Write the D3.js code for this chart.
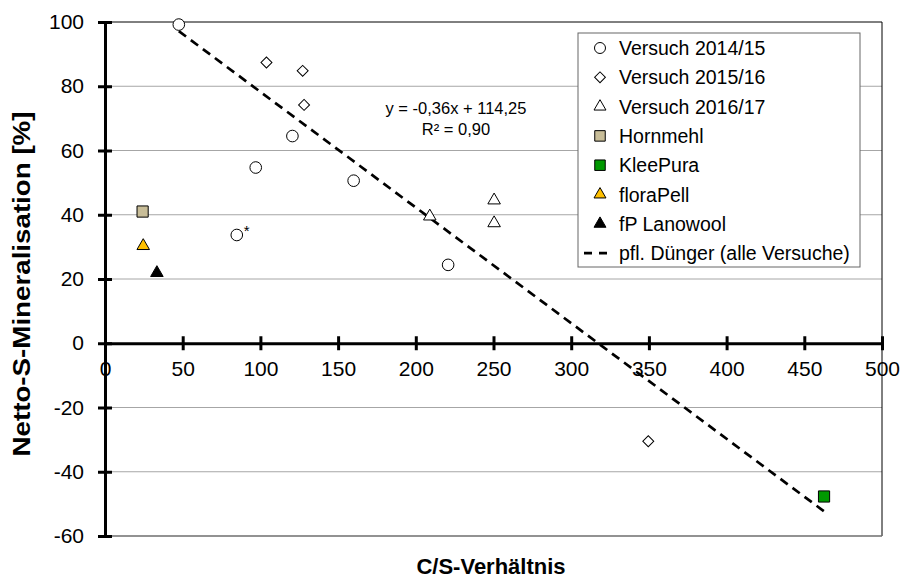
<!DOCTYPE html>
<html>
<head>
<meta charset="utf-8">
<script src="https://cdn.jsdelivr.net/npm/d3@7"></script>
<style>
  body { margin: 0; background: #fff; }
  text { font-family: "Liberation Sans", Arial, sans-serif; }
</style>
</head>
<body>
<div id="chart"></div>
<script>
// data: [C/S ratio, net S mineralisation %]
var versuch1415 = [[47.5, 99.2], [84.8, 33.7], [97, 54.7], [120.6, 64.5], [160, 50.6], [220.8, 24.4]];
var versuch1516 = [[103.9, 87.4], [127.2, 84.8], [128.1, 74.2], [349.6, -30.5]];
var versuch1617 = [[209, 39.5], [250.4, 44.5], [250.4, 37.4]];
var hornmehl = [[24.2, 41.0]];
var kleePura = [[462.7, -47.7]];
var floraPell = [[24.6, 30.3]];
var lanowool = [[33.4, 21.9]];
var trendSlope = -0.36, trendIntercept = 114.25;
var trendRange = [47.5, 462.7];
var xTicks = [0, 50, 100, 150, 200, 250, 300, 350, 400, 450, 500];
var yTicks = [-60, -40, -20, 0, 20, 40, 60, 80, 100];
var legendLabels = ["Versuch 2014/15", "Versuch 2015/16", "Versuch 2016/17", "Hornmehl", "KleePura", "floraPell", "fP Lanowool", "pfl. Dünger (alle Versuche)"];

var svgW = 901, svgH = 578;
var plotL = 105, plotR = 882, plotT = 22, plotB = 536;

var svg = d3.select("#chart").append("svg")
  .attr("width", svgW)
  .attr("height", svgH);

var x = d3.scaleLinear().domain([0, 500]).range([plotL, plotR]);
var y = d3.scaleLinear().domain([-60, 100]).range([plotB, plotT]);

// gridlines
svg.selectAll(".grid")
  .data(yTicks.filter(function(t) { return t != 0 && t != 100 && t != -60; }))
  .enter().append("line")
  .attr("x1", plotL).attr("x2", plotR)
  .attr("y1", function(d) { return y(d); })
  .attr("y2", function(d) { return y(d); })
  .attr("stroke", "#a6a6a6").attr("stroke-width", 1);

// plot frame: top/right black, bottom grey
svg.append("line").attr("x1", plotL).attr("x2", plotR).attr("y1", y(100)).attr("y2", y(100))
  .attr("stroke", "#000").attr("stroke-width", 1);
svg.append("line").attr("x1", plotR).attr("x2", plotR).attr("y1", y(100)).attr("y2", y(-60))
  .attr("stroke", "#000").attr("stroke-width", 1);
svg.append("line").attr("x1", plotL).attr("x2", plotR).attr("y1", y(-60)).attr("y2", y(-60))
  .attr("stroke", "#6e6e6e").attr("stroke-width", 1.3);

// y axis (ticks crossing)
var yAxis = d3.axisLeft(y).tickValues(yTicks).tickSize(0).tickPadding(21)
  .tickFormat(function(d) { return String(d); });
var gy = svg.append("g").attr("transform", "translate(" + plotL + ",0)").call(yAxis);
gy.select(".domain").attr("stroke", "#000").attr("stroke-width", 3);
gy.selectAll(".tick line").attr("x1", -7).attr("x2", 7).attr("stroke", "#000").attr("stroke-width", 3);
gy.selectAll("text").attr("font-size", 21).attr("fill", "#000")
  .attr("font-family", "Liberation Sans, Arial, sans-serif");

// x axis at y = 0
var xAxis = d3.axisBottom(x).tickValues(xTicks).tickSize(0).tickPadding(18)
  .tickFormat(function(d) { return String(d); });
var gx = svg.append("g").attr("transform", "translate(0," + y(0) + ")").call(xAxis);
gx.select(".domain").attr("stroke", "#000").attr("stroke-width", 3);
gx.selectAll(".tick line").attr("y1", -7).attr("y2", 7).attr("stroke", "#000").attr("stroke-width", 3);
gx.selectAll("text").attr("font-size", 21).attr("fill", "#000")
  .attr("font-family", "Liberation Sans, Arial, sans-serif");

// trend line
svg.append("line")
  .attr("x1", x(trendRange[0])).attr("y1", y(trendSlope * trendRange[0] + trendIntercept))
  .attr("x2", x(trendRange[1])).attr("y2", y(trendSlope * trendRange[1] + trendIntercept))
  .attr("stroke", "#000").attr("stroke-width", 2.7).attr("stroke-dasharray", "9,6");

function drawPoints(data, shape, fill, size, rot) {
  svg.selectAll(null)
    .data(data)
    .enter().append("path")
    .attr("transform", function(d) {
      return "translate(" + x(d[0]) + "," + y(d[1]) + ")" + (rot ? " rotate(45)" : "");
    })
    .attr("d", d3.symbol().type(shape).size(size))
    .attr("fill", fill).attr("stroke", "#000").attr("stroke-width", 1);
}

drawPoints(versuch1415, d3.symbolCircle, "#fff", 106);
drawPoints(versuch1516, d3.symbolSquare, "#fff", 60, true);
drawPoints(versuch1617, d3.symbolTriangle, "#fff", 68);
drawPoints(hornmehl, d3.symbolSquare, "#c8bd98", 125);
drawPoints(kleePura, d3.symbolSquare, "#009900", 125);
drawPoints(floraPell, d3.symbolTriangle, "#ffc000", 68);
drawPoints(lanowool, d3.symbolTriangle, "#000", 68);

// asterisk next to the outlier circle
svg.append("text")
  .attr("x", x(versuch1415[1][0]) + 7).attr("y", y(versuch1415[1][1]) + 1)
  .attr("font-size", 15).text("*");

// equation
svg.append("text").attr("x", 456).attr("y", 114).attr("text-anchor", "middle")
  .attr("font-size", 16.5).text("y = -0,36x + 114,25");
svg.append("text").attr("x", 456).attr("y", 135).attr("text-anchor", "middle")
  .attr("font-size", 16.5).text("R² = 0,90");

// legend
var lg = svg.append("g").attr("transform", "translate(578,33)");
lg.append("rect").attr("width", 282).attr("height", 234)
  .attr("fill", "#fff").attr("stroke", "#666").attr("stroke-width", 1);
var legendShapes = [
  [d3.symbolCircle, "#fff", 95, false], [d3.symbolSquare, "#fff", 58, true], [d3.symbolTriangle, "#fff", 62, false],
  [d3.symbolSquare, "#c8bd98", 110, false], [d3.symbolSquare, "#009900", 110, false],
  [d3.symbolTriangle, "#ffc000", 62, false], [d3.symbolTriangle, "#000", 62, false]
];
legendLabels.forEach(function(label, i) {
  var ly = 15 + i * 29.3;
  if (i < legendShapes.length) {
    lg.append("path")
      .attr("transform", "translate(22," + ly + ")" + (legendShapes[i][3] ? " rotate(45)" : ""))
      .attr("d", d3.symbol().type(legendShapes[i][0]).size(legendShapes[i][2]))
      .attr("fill", legendShapes[i][1]).attr("stroke", "#000").attr("stroke-width", 1);
  } else {
    lg.append("line").attr("x1", 6).attr("x2", 33).attr("y1", ly).attr("y2", ly)
      .attr("stroke", "#000").attr("stroke-width", 2.7).attr("stroke-dasharray", "8,7");
  }
  lg.append("text").attr("x", 41).attr("y", ly + 7).attr("font-size", 19.5).text(label);
});

// axis titles
svg.append("text").attr("x", 491).attr("y", 574).attr("text-anchor", "middle")
  .attr("font-size", 22).attr("font-weight", "bold").text("C/S-Verhältnis");
svg.append("text").attr("transform", "translate(30,284) rotate(-90)").attr("text-anchor", "middle")
  .attr("font-size", 23).attr("font-weight", "bold")
  .attr("textLength", 345).attr("lengthAdjust", "spacingAndGlyphs")
  .text("Netto-S-Mineralisation [%]");
</script>
</body>
</html>
